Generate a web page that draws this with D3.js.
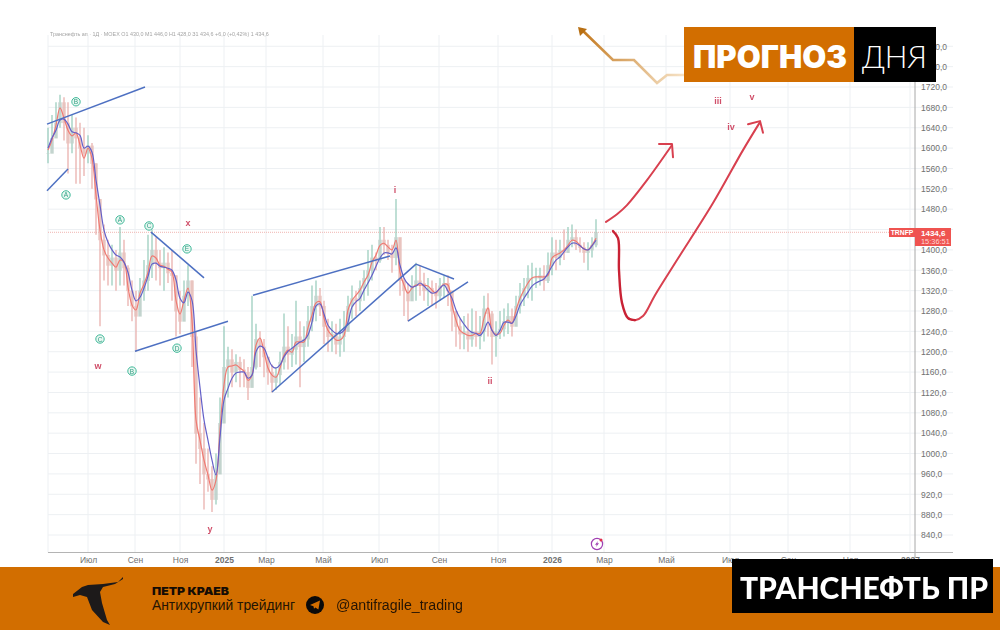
<!DOCTYPE html>
<html>
<head>
<meta charset="utf-8">
<script src="https://cdn.jsdelivr.net/npm/d3@7"></script>
<style>
html, body { margin: 0; padding: 0; background: #fff; }
svg { display: block; }
text { font-family: "Liberation Sans", sans-serif; }
</style>
</head>
<body>
<svg id="chart" width="1000" height="630"></svg>
<script>
"use strict";

// Daily bars are thinned out: one entry per bar slot on the TradingView index axis
var highs = [
    1640,1665,1690,1705,1700,1690,1665,1660,1650,1640,
    1625,1610,1570,1500,1450,1420,1410,1400,1445,1420,
    1370,1340,1320,1345,1380,1430,1440,1425,1400,1405,
    1395,1400,1350,1320,1340,1370,1340,1240,1110,1060,
    1010,975,1000,1110,1250,1210,1205,1195,1190,1185,
    1170,1310,1255,1240,1225,1190,1175,1170,1200,1275,
    1250,1235,1300,1260,1250,1290,1330,1340,1325,1300,
    1265,1260,1255,1265,1280,1310,1330,1320,1340,1360,
    1400,1410,1395,1445,1445,1420,1410,1500,1390,1345,
    1335,1350,1375,1370,1355,1345,1340,1335,1345,1350,
    1350,1320,1280,1265,1270,1275,1285,1280,1270,1310,
    1315,1280,1260,1280,1285,1295,1285,1310,1335,1345,
    1370,1375,1365,1365,1370,1395,1425,1420,1420,1440,
    1445,1450,1440,1425,1415,1415,1425,1460
];
var lows = [
    1570,1600,1625,1640,1615,1550,1590,1530,1530,1545,
    1570,1520,1430,1250,1340,1330,1330,1320,1330,1330,
    1290,1260,1200,1270,1300,1320,1345,1340,1330,1320,
    1335,1300,1230,1235,1265,1290,1170,980,940,890,
    925,885,900,960,1080,1110,1130,1140,1130,1130,
    1105,1130,1165,1170,1150,1135,1120,1125,1135,1165,
    1165,1170,1175,1130,1180,1210,1240,1260,1270,1215,
    1200,1200,1195,1190,1200,1240,1265,1270,1280,1300,
    1310,1340,1360,1375,1390,1380,1355,1370,1310,1270,
    1260,1300,1300,1310,1300,1290,1290,1285,1300,1305,
    1290,1240,1210,1205,1205,1200,1210,1210,1205,1220,
    1230,1175,1190,1225,1230,1235,1230,1255,1275,1290,
    1305,1300,1325,1330,1320,1335,1350,1360,1370,1380,
    1400,1405,1400,1395,1375,1360,1385,1405
];
var closes = [
    1590,1620,1650,1690,1650,1610,1640,1620,1600,1590,
    1605,1570,1500,1420,1390,1370,1385,1360,1395,1365,
    1320,1290,1270,1320,1340,1370,1400,1375,1365,1375,
    1355,1350,1280,1260,1310,1340,1230,1040,1010,960,
    950,910,960,1060,1170,1185,1160,1180,1165,1160,
    1130,1170,1225,1210,1190,1160,1140,1155,1180,1210,
    1195,1205,1230,1210,1225,1260,1290,1310,1290,1250,
    1230,1235,1215,1230,1240,1290,1305,1300,1325,1345,
    1360,1385,1380,1420,1410,1395,1385,1425,1340,1320,
    1300,1330,1340,1335,1320,1325,1315,1310,1330,1335,
    1320,1280,1250,1235,1240,1225,1240,1230,1240,1285,
    1275,1230,1240,1245,1260,1270,1250,1290,1310,1325,
    1345,1345,1345,1350,1340,1370,1395,1385,1400,1395,
    1420,1425,1410,1405,1395,1400,1410,1435
];
var fastMa = [
    1596,1616,1645,1679,1659,1635,1624,1630,1606,1580,
    1600,1580,1508,1439,1400,1384,1374,1366,1380,1376,
    1327,1292,1282,1315,1333,1356,1388,1384,1370,1368,
    1362,1356,1301,1274,1301,1325,1262,1066,1026,987,
    958,928,948,1046,1135,1170,1172,1174,1168,1162,
    1144,1154,1213,1227,1200,1168,1154,1150,1168,1193,
    1203,1199,1219,1219,1219,1247,1272,1296,1298,1266,
    1242,1232,1223,1223,1232,1282,1301,1311,1321,1337,
    1350,1376,1390,1409,1413,1406,1400,1419,1356,1331,
    1315,1325,1331,1331,1331,1329,1321,1315,1325,1333,
    1331,1292,1262,1242,1236,1232,1232,1236,1236,1266,
    1286,1242,1234,1236,1252,1262,1256,1282,1305,1321,
    1335,1345,1347,1347,1347,1350,1384,1390,1394,1400,
    1409,1419,1417,1409,1402,1400,1409,1423
];
var slowMa = [
    1600,1620,1635,1655,1657,1647,1632,1630,1625,1600,
    1604,1592,1537,1488,1439,1415,1400,1390,1386,1376,
    1356,1321,1300,1307,1325,1348,1372,1374,1368,1366,
    1364,1360,1341,1305,1296,1317,1301,1203,1130,1066,
    1026,987,958,1032,1105,1128,1148,1158,1160,1160,
    1148,1154,1200,1211,1207,1188,1172,1168,1174,1190,
    1201,1207,1213,1219,1223,1233,1258,1290,1294,1274,
    1252,1242,1236,1236,1242,1258,1288,1298,1305,1321,
    1335,1350,1368,1384,1394,1394,1392,1404,1370,1345,
    1333,1327,1329,1335,1329,1321,1315,1317,1325,1331,
    1319,1305,1282,1266,1254,1244,1238,1236,1232,1242,
    1258,1242,1232,1242,1258,1258,1256,1270,1292,1305,
    1317,1329,1335,1339,1343,1354,1368,1380,1386,1396,
    1406,1413,1413,1408,1402,1400,1408,1419
];

var monthLabels = ["Июл", "Сен", "Ноя", "2025", "Мар", "Май", "Июл", "Сен", "Ноя", "2026", "Мар", "Май", "Июл", "Сен", "Ноя", "2027"];
var monthBars = [10, 21.75, 33, 44, 54.5, 68.75, 82.75, 97.75, 112.5, 126, 139, 154.5, 170.5, 185, 200.5, 215.5];
var gridPrices = [840, 880, 920, 960, 1000, 1040, 1080, 1120, 1160, 1200, 1240, 1280, 1320, 1360, 1400, 1440, 1480, 1520, 1560, 1600, 1640, 1680, 1720, 1760, 1800];
// 1440 sits under the last price badge, so it gets no label
var priceTicks = [840, 880, 920, 960, 1000, 1040, 1080, 1120, 1160, 1200, 1240, 1280, 1320, 1360, 1400, 1480, 1520, 1560, 1600, 1640, 1680, 1720, 1760, 1800];
var lastPrice = 1434.6;

// [bar1, price1, bar2, price2]
var trendLines = [
    [-0.25, 1647, 24.25, 1720],
    [-0.25, 1516, 5, 1559],
    [25.75, 1435, 39, 1345],
    [21.75, 1201, 45, 1260],
    [51.25, 1311, 85.5, 1388],
    [56, 1121, 92, 1372],
    [92, 1372, 101.5, 1343],
    [90, 1260, 105, 1337]
];

// [bar, price, text]
var circledLabels = [
    [7, 1691, "B"], [4.5, 1508, "A"], [18, 1459, "A"], [25.25, 1447, "C"],
    [34.75, 1402, "E"], [13, 1225, "C"], [32.25, 1207, "D"], [21, 1162, "B"]
];
var waveLabels = [
    [35, 1447, "x"], [12.5, 1166, "w"], [40.5, 846, "y"], [86.75, 1512, "i"],
    [110.5, 1137, "ii"], [167.5, 1687, "iii"], [170.75, 1636, "iv"], [176, 1694, "v"]
];

var forecastUp = [[139.5, 1455], [142.25, 1470], [144.75, 1488], [149.75, 1537], [156, 1606]];
var forecastUpHead = [[152.75, 1608], [156, 1608], [156.25, 1582]];
var forecastDrop = [[141.25, 1437], [142.5, 1423], [142.75, 1360], [143.5, 1296], [145, 1266], [146.75, 1262]];
var forecastRise = [[145, 1266], [146.75, 1262], [148.75, 1270], [151.75, 1311], [157.25, 1380], [166.25, 1492], [173.75, 1596], [178, 1651]];
var forecastRiseHead = [[175, 1647], [178, 1653], [178.75, 1630]];

var svg = d3.select("#chart");
var orange = "#d26e00";

var x = d3.scaleLinear().domain([0, 226.25]).range([48, 953]);
var y = d3.scaleLinear().domain([840, 1720]).range([535, 87]);

var plotTop = 35, plotBottom = 552.5, axisX = 915;

var soft = svg.append("defs").append("filter").attr("id", "soft");
soft.append("feGaussianBlur").attr("stdDeviation", 0.45);

// Grid
var grid = svg.append("g").attr("stroke", "#edf0f3").attr("stroke-width", 1);
grid.selectAll("line.h").data(gridPrices).enter().append("line")
    .attr("x1", x(0)).attr("x2", x(226.25))
    .attr("y1", function (d) { return y(d); })
    .attr("y2", function (d) { return y(d); });
grid.selectAll("line.v").data(monthBars).enter().append("line")
    .attr("x1", function (d) { return x(d); })
    .attr("x2", function (d) { return x(d); })
    .attr("y1", plotTop).attr("y2", plotBottom);
grid.append("line").attr("x1", x(0)).attr("x2", x(0)).attr("y1", plotTop).attr("y2", plotBottom);

// Last price line
svg.append("line")
    .attr("x1", x(0)).attr("x2", axisX)
    .attr("y1", y(lastPrice)).attr("y2", y(lastPrice))
    .attr("stroke", "#f0b4b0").attr("stroke-dasharray", "1,1");

var marks = svg.append("g").attr("filter", "url(#soft)");

function isUp(i) {
    return i === 0 ? true : closes[i] >= closes[i - 1];
}

// Bars
var bars = marks.append("g").selectAll("g").data(d3.range(highs.length)).enter().append("g")
    .attr("opacity", 0.78);
bars.append("line")
    .attr("x1", function (i) { return x(i); })
    .attr("x2", function (i) { return x(i); })
    .attr("y1", function (i) { return y(highs[i]); })
    .attr("y2", function (i) { return y(lows[i]); })
    .attr("stroke-width", 1.5)
    .attr("stroke", function (i) { return isUp(i) ? "#93c8b8" : "#e8a8a4"; });
bars.append("rect")
    .attr("x", function (i) { return x(i) - 1.7; })
    .attr("width", 3.4)
    .attr("y", function (i) { return y(Math.max(closes[i], i ? closes[i - 1] : closes[i])); })
    .attr("height", function (i) { return Math.abs(y(closes[i]) - y(i ? closes[i - 1] : closes[i])) + 0.5; })
    .attr("fill", function (i) { return isUp(i) ? "#b3c8c0" : "#e3b4ae"; });

// Moving averages
var maLine = d3.line()
    .x(function (d, i) { return x(i); })
    .y(function (d) { return y(d); })
    .curve(d3.curveCatmullRom);
marks.append("path").attr("d", maLine(fastMa)).attr("fill", "none").attr("stroke", "#f07a72").attr("stroke-width", 1.2);
marks.append("path").attr("d", maLine(slowMa)).attr("fill", "none").attr("stroke", "#6460c8").attr("stroke-width", 1.2);

// Trend lines
marks.append("g").selectAll("line").data(trendLines).enter().append("line")
    .attr("x1", function (d) { return x(d[0]); })
    .attr("y1", function (d) { return y(d[1]); })
    .attr("x2", function (d) { return x(d[2]); })
    .attr("y2", function (d) { return y(d[3]); })
    .attr("stroke", "#4e70c2").attr("stroke-width", 1.5);

// Wave labels
var circled = marks.append("g").selectAll("g").data(circledLabels).enter().append("g")
    .attr("transform", function (d) { return "translate(" + x(d[0]) + "," + y(d[1]) + ")"; });
circled.append("circle").attr("r", 4.2).attr("fill", "#e9f7f2").attr("stroke", "#3fb898").attr("stroke-width", 1);
circled.append("text")
    .attr("text-anchor", "middle").attr("y", 2.5)
    .attr("font-size", 6.5).attr("fill", "#2f9f82")
    .text(function (d) { return d[2]; });

marks.append("g").selectAll("text").data(waveLabels).enter().append("text")
    .attr("x", function (d) { return x(d[0]); })
    .attr("y", function (d) { return y(d[1]); })
    .attr("text-anchor", "middle")
    .attr("font-size", 9).attr("font-weight", "bold")
    .attr("fill", "#d0506a")
    .text(function (d) { return d[2]; });

// Hand drawn forecast
var pointLine = d3.line()
    .x(function (d) { return x(d[0]); })
    .y(function (d) { return y(d[1]); });
var handLine = d3.line()
    .x(function (d) { return x(d[0]); })
    .y(function (d) { return y(d[1]); })
    .curve(d3.curveCatmullRom);
var hand = marks.append("g").attr("fill", "none").attr("stroke-linecap", "round").attr("stroke-linejoin", "round");
hand.append("path").attr("d", handLine(forecastUp)).attr("stroke", "#d8404f").attr("stroke-width", 2);
hand.append("path").attr("d", pointLine(forecastUpHead)).attr("stroke", "#d8404f").attr("stroke-width", 2);
hand.append("path").attr("d", handLine(forecastRise)).attr("stroke", "#d8404f").attr("stroke-width", 2);
hand.append("path").attr("d", pointLine(forecastRiseHead)).attr("stroke", "#d8404f").attr("stroke-width", 2);
hand.append("path").attr("d", handLine(forecastDrop)).attr("stroke", "#c92436").attr("stroke-width", 2.4);

// Axes
var priceFormat = d3.format(".1f");
var yAxis = d3.axisRight(y).tickValues(priceTicks).tickSize(0).tickPadding(6)
    .tickFormat(function (d) { return priceFormat(d).replace(".", ","); });
var yG = svg.append("g").attr("transform", "translate(" + axisX + ",0)").call(yAxis);
yG.select(".domain").remove();
yG.selectAll("text").attr("font-size", 8.5).attr("fill", "#707070").attr("font-family", "Roboto, sans-serif");
svg.append("line").attr("x1", axisX).attr("x2", axisX).attr("y1", plotTop).attr("y2", 558).attr("stroke", "#a8a8a8");

var xAxis = d3.axisBottom(x).tickValues(monthBars).tickSize(0).tickPadding(4)
    .tickFormat(function (d, i) { return monthLabels[i]; });
var xG = svg.append("g").attr("transform", "translate(0," + plotBottom + ")").call(xAxis);
xG.select(".domain").remove();
xG.selectAll("text").attr("font-size", 8.5).attr("fill", "#707070").attr("font-family", "Roboto, sans-serif")
    .attr("font-weight", function (d, i) { return monthLabels[i].length === 4 ? "bold" : "normal"; });
svg.append("line").attr("x1", x(0)).attr("x2", x(226.25)).attr("y1", plotBottom).attr("y2", plotBottom).attr("stroke", "#b4b4b4");

// Legend line at the top of the chart
svg.append("text").attr("x", 50).attr("y", 36)
    .attr("font-size", 5.4).attr("fill", "#a4a4a4").attr("filter", "url(#soft)")
    .text("Транснефть ап · 1Д · MOEX   О1 430,0  М1 446,0  Н1 428,0  З1 434,6  +6,0 (+0,42%)  1 434,6");

// Last price badge
svg.append("rect").attr("x", 889).attr("y", 228).attr("width", 26).attr("height", 9).attr("fill", "#ef5350");
svg.append("text").attr("x", 902).attr("y", 235.2).attr("text-anchor", "middle")
    .attr("font-size", 6.8).attr("font-weight", "bold").attr("fill", "#fff").text("TRNFP");
svg.append("rect").attr("x", 915).attr("y", 228).attr("width", 36).attr("height", 18).attr("fill", "#ef5350");
svg.append("text").attr("x", 921).attr("y", 235.8).attr("font-size", 8).attr("font-weight", "bold").attr("fill", "#fff").text("1434,6");
svg.append("text").attr("x", 921).attr("y", 244).attr("font-size", 7.4).attr("fill", "#ffd9d6").text("15:36:51");

// Publish icon
var icon = svg.append("g").attr("transform", "translate(597,544)");
icon.append("circle").attr("r", 5.6).attr("fill", "#fff").attr("stroke", "#a03fb3").attr("stroke-width", 1.2);
icon.append("path").attr("d", "M1,-3 L-2,0.8 L-0.2,0.8 L-1,3 L2,-0.8 L0.2,-0.8 Z").attr("fill", "#a03fb3");
icon.append("circle").attr("cx", 4).attr("cy", -4).attr("r", 1.5).attr("fill", "#e03050");

// Top banner with its fading arrow
var fade = svg.select("defs").append("linearGradient").attr("id", "fade")
    .attr("gradientUnits", "userSpaceOnUse")
    .attr("x1", 580).attr("y1", 30).attr("x2", 684).attr("y2", 75);
fade.append("stop").attr("offset", 0).attr("stop-color", "#c2761a");
fade.append("stop").attr("offset", 1).attr("stop-color", "#f6e2c6");
svg.append("path").attr("d", "M581,29 L613,60 L634,60 L657,83 L667,75 L684,75")
    .attr("fill", "none").attr("stroke", "url(#fade)").attr("stroke-width", 2.6);
svg.append("path").attr("d", "M578,27 L587,29 L580,36 Z").attr("fill", "#b86f12");

svg.append("rect").attr("x", 684).attr("y", 27).attr("width", 171).attr("height", 55).attr("fill", orange);
svg.append("rect").attr("x", 854).attr("y", 27).attr("width", 82).attr("height", 55).attr("fill", "#000");
svg.append("text").attr("x", 693).attr("y", 68)
    .style("font-family", "Inter, sans-serif").attr("font-size", 31).attr("font-weight", 900).attr("fill", "#fff")
    .attr("textLength", 154).attr("lengthAdjust", "spacingAndGlyphs")
    .text("ПРОГНОЗ");
svg.append("text").attr("x", 862).attr("y", 68)
    .style("font-family", "Lato, sans-serif").attr("font-size", 32).attr("font-weight", 300).attr("fill", "#fff")
    .attr("textLength", 65).attr("lengthAdjust", "spacingAndGlyphs")
    .text("ДНЯ");

// Bottom strip
svg.append("rect").attr("x", 0).attr("y", 567).attr("width", 1000).attr("height", 63).attr("fill", orange);
svg.append("path")
    .attr("d", "M123,577 L118,582 L103,584 L88,585 L82,587 L73,594 L73,597 L80,595 L87,597 L92,610 L103,622 L110,625 L107,620 L102,603 L100,592 L103,587 L115,584 L123,579 Z")
    .attr("fill", "#1d1a1a");
svg.append("text").attr("x", 152).attr("y", 595)
    .style("font-family", "Inter, sans-serif").attr("font-size", 11).attr("font-weight", 900).attr("fill", "#140c05")
    .attr("textLength", 77).attr("lengthAdjust", "spacingAndGlyphs")
    .text("ПЕТР КРАЕВ");
svg.append("text").attr("x", 152).attr("y", 610)
    .attr("font-size", 14).attr("fill", "#241404")
    .attr("textLength", 143).attr("lengthAdjust", "spacingAndGlyphs")
    .text("Антихрупкий трейдинг");
var tg = svg.append("g").attr("transform", "translate(315,605)");
tg.append("circle").attr("r", 9).attr("fill", "#0a0a0a");
tg.append("path").attr("d", "M-5,0 L5,-4.5 L3.4,4.5 L0.4,2.4 L-1,3.8 L-1.5,1.2 Z").attr("fill", orange);
svg.append("text").attr("x", 336).attr("y", 610)
    .attr("font-size", 14).attr("fill", "#241404")
    .attr("textLength", 127).attr("lengthAdjust", "spacingAndGlyphs")
    .text("@antifragile_trading");

svg.append("rect").attr("x", 732).attr("y", 559).attr("width", 261).attr("height", 54).attr("fill", "#000");
svg.append("text").attr("x", 740).attr("y", 599)
    .style("font-family", "Lato, sans-serif").attr("font-size", 30).attr("font-weight", 900).attr("fill", "#fff")
    .text("ТРАНСНЕФТЬ ПР");
</script>
</body>
</html>
